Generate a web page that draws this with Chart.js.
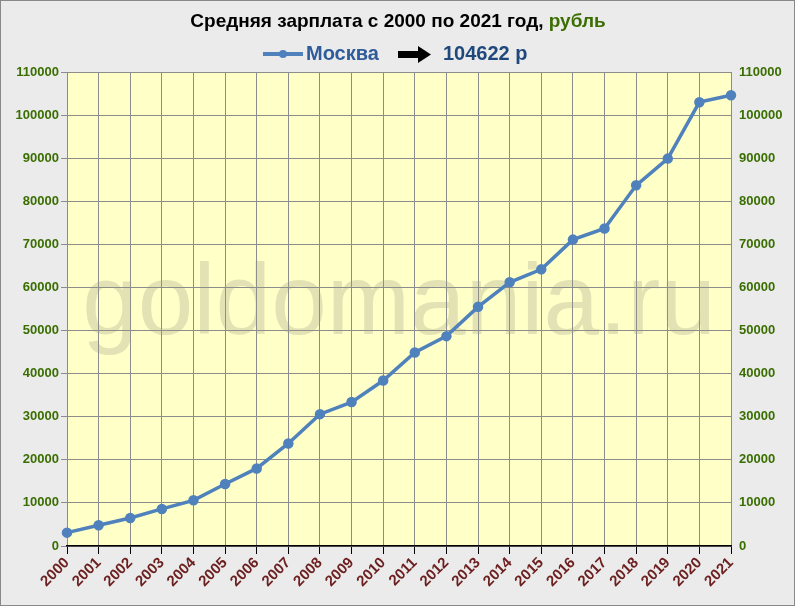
<!DOCTYPE html>
<html><head><meta charset="utf-8">
<script src="https://cdn.jsdelivr.net/npm/chart.js@4"></script>
<style>html,body{margin:0;padding:0;background:#e6e6e6;}
#w{position:relative;width:793px;height:604px;border:1px solid #888;background:#ebebeb;}
canvas{position:absolute;left:0;top:0;}</style></head>
<body><div id="w"><canvas id="c" width="795" height="606"></canvas></div>
<script>
const years=["2000","2001","2002","2003","2004","2005","2006","2007","2008","2009","2010","2011","2012","2013","2014","2015","2016","2017","2018","2019","2020","2021"];
const moscow=[3100,4800,6500,8600,10600,14400,18000,23800,30600,33400,38400,44900,48700,55500,61200,64200,71100,73700,83700,89900,103000,104622];
const yTicks=[0,10000,20000,30000,40000,50000,60000,70000,80000,90000,100000,110000];
const F='"Liberation Sans", Arial, sans-serif';
const deco={id:'deco',
 beforeDatasetsDraw(ch){const c=ch.ctx,a=ch.chartArea;c.save();
  c.fillStyle='rgba(150,150,130,0.28)';c.font='100px '+F;c.textAlign='center';c.textBaseline='middle';
  c.fillText('goldomania.ru',(a.left+a.right)/2,305);c.restore();},
 afterDraw(ch){const c=ch.ctx;c.save();c.textBaseline='middle';
  c.font='bold 19px '+F;const t1='Средняя зарплата с 2000 по 2021 год, ',t2='рубль';
  const w1=c.measureText(t1).width,w2=c.measureText(t2).width;let x=397-(w1+w2)/2;
  c.fillStyle='#000';c.fillText(t1,x,21);c.fillStyle='#3a6e00';c.fillText(t2,x+w1,21);
  c.strokeStyle='#4f81bd';c.lineWidth=4;c.beginPath();c.moveTo(262,53);c.lineTo(302,53);c.stroke();
  c.fillStyle='#4f81bd';c.beginPath();c.arc(282,53,4,0,7);c.fill();
  c.font='bold 20px '+F;c.fillStyle='#2e5c9a';c.fillText('Москва',305,53);
  c.fillStyle='#000';c.fillRect(397,50,22,7);c.beginPath();c.moveTo(417,45);c.lineTo(430,53.5);c.lineTo(417,62);c.fill();
  c.fillStyle='#1f497d';c.fillText('104622 р',442,53);c.restore();}};
const bg={id:'bg',beforeDraw(ch){const a=ch.chartArea,c=ch.ctx;c.fillStyle='#ffffc8';c.fillRect(a.left,a.top,a.right-a.left,a.bottom-a.top);}};
const yopt=(pos)=>({position:pos,min:0,max:110000,afterBuildTicks(s){s.ticks=yTicks.map(v=>({value:v}));},
 afterFit(s){s.width=pos==='left'?66:65;},
 grid:{display:pos==='left',color:'#8c8c8c',lineWidth:1,drawTicks:true,tickLength:6},border:{color:'#000',display:false},
 ticks:{color:'#3a6e00',font:{family:F,size:13,weight:'bold'},padding:2,callback:v=>String(v)}});
new Chart(document.getElementById('c'),{type:'line',
 data:{labels:years,datasets:[{data:moscow,borderColor:'#4f81bd',backgroundColor:'#4f81bd',borderWidth:3.5,pointRadius:3.5,pointHoverRadius:3.5,tension:0}]},
 options:{responsive:false,animation:false,layout:{padding:{top:71,left:0,right:0,bottom:0}},
  plugins:{legend:{display:false},tooltip:{enabled:false}},
  scales:{x:{offset:false,afterFit(s){s.height=61;},grid:{color:'#8c8c8c',tickLength:8,tickColor:'#000'},border:{color:'#000',width:1.5},
   ticks:{color:'#6b1f1f',font:{family:F,size:15,weight:'bold'},maxRotation:45,minRotation:45,padding:0}},
   y:yopt('left'),y2:yopt('right')}},
 plugins:[bg,deco]});
</script></body></html>
